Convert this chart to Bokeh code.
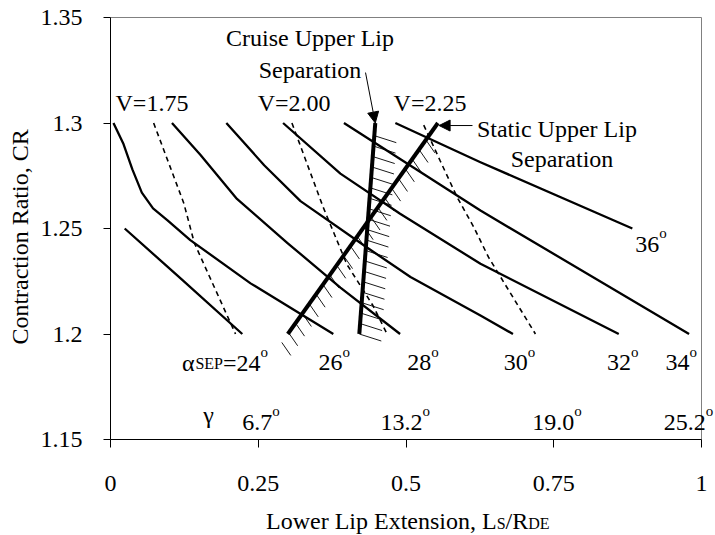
from bokeh.plotting import figure
from bokeh.models import Arrow, NormalHead, FixedTicker, ColumnDataSource
from bokeh.core.properties import value, field
from bokeh.embed import file_html
from bokeh.resources import INLINE
import numpy as np

# ---- axes ----
x_ticks = [0, 0.25, 0.5, 0.75, 1]
x_tick_labels = ["0", "0.25", "0.5", "0.75", "1"]
y_ticks = [1.15, 1.2, 1.25, 1.3, 1.35]
y_tick_labels = ["1.15", "1.2", "1.25", "1.3", "1.35"]

# ---- constant separation-angle curves (solid) ----
a24_x = [0.024, 0.12, 0.223]
a24_y = [1.25, 1.226, 1.2]
a26_x = [0.005, 0.022, 0.037, 0.053, 0.072, 0.096, 0.135, 0.237, 0.377]
a26_y = [1.3, 1.29, 1.278, 1.267, 1.2595, 1.254, 1.2445, 1.224, 1.2]
a28_x = [0.104, 0.152, 0.214, 0.30, 0.389, 0.49]
a28_y = [1.3, 1.285, 1.264, 1.243, 1.222, 1.2]
a30_x = [0.196, 0.26, 0.3215, 0.434, 0.5076, 0.626, 0.681]
a30_y = [1.3, 1.28, 1.263, 1.241, 1.227, 1.2088, 1.2]
a32_x = [0.292, 0.389, 0.49, 0.626, 0.86]
a32_y = [1.3, 1.276, 1.257, 1.2333, 1.2]
a34_x = [0.395, 0.626, 0.979]
a34_y = [1.3, 1.2585, 1.2]
a36_x = [0.482, 0.626, 0.883]
a36_y = [1.3, 1.2814, 1.25]

# ---- constant velocity-ratio lines (dashed) ----
v175_x = [0.073, 0.124, 0.142, 0.2115]
v175_y = [1.3, 1.262, 1.243, 1.2]
v200_x = [0.307, 0.36, 0.40, 0.444, 0.468]
v200_y = [1.3, 1.26, 1.233, 1.2135, 1.2]
v225_x = [0.530, 0.558, 0.5866, 0.6148, 0.6396, 0.6655, 0.719]
v225_y = [1.299, 1.282, 1.2648, 1.2506, 1.2364, 1.2245, 1.2]

# ---- upper lip separation boundaries ----
cruise_x = [0.421, 0.448]
cruise_y = [1.2, 1.3]
static_x = [0.300, 0.554]
static_y = [1.2, 1.3]

FONT = "Liberation Serif"
W, H = 715, 535
# margins (px) around the plotting box; the canvas frame covers them too so
# that annotations outside the box are not clipped
BL, BR, BT, BB = 110, 14, 17, 96
X0, X1, Y0, Y1 = 0.0, 1.0, 1.15, 1.35
px_x = (W - BL - BR) / (X1 - X0)
px_y = (H - BT - BB) / (Y1 - Y0)

p = figure(width=W, height=H,
           x_range=(X0 - BL / px_x, X1 + BR / px_x),
           y_range=(Y0 - BB / px_y, Y1 + BT / px_y),
           output_backend="svg", toolbar_location=None,
           min_border=0, min_border_left=0, min_border_right=0,
           min_border_top=0, min_border_bottom=0)
p.background_fill_color = "white"
p.border_fill_color = "white"
p.outline_line_color = None
p.xgrid.visible = False
p.ygrid.visible = False

p.xaxis.fixed_location = Y0
p.yaxis.fixed_location = X0
p.xaxis.bounds = (X0, X1)
p.yaxis.bounds = (Y0, Y1)

for ax, ticks, labels, tick_out, standoff in (
        (p.xaxis[0], x_ticks, x_tick_labels, 8, 28),
        (p.yaxis[0], y_ticks, y_tick_labels, 7, 21)):
    ax.ticker = FixedTicker(ticks=ticks)
    ax.major_label_overrides = {t: s for t, s in zip(ticks, labels)}
    ax.axis_line_color = "black"
    ax.major_tick_line_color = "black"
    ax.major_tick_out = tick_out
    ax.major_tick_in = 0
    ax.minor_tick_out = 0
    ax.minor_tick_in = 0
    ax.major_label_text_font = FONT
    ax.major_label_text_font_size = "24px"
    ax.major_label_text_color = "black"
    ax.major_label_standoff = standoff

# gray top and right edges of the plotting box
p.segment(x0=[X0, X1], y0=[Y1, Y0], x1=[X1, X1], y1=[Y1, Y1],
          line_color="#808080", line_width=1)

# solid curves
for xs, ys in ((a24_x, a24_y), (a26_x, a26_y), (a28_x, a28_y), (a30_x, a30_y),
               (a32_x, a32_y), (a34_x, a34_y), (a36_x, a36_y)):
    p.line(xs, ys, line_color="black", line_width=2.3, line_join="round")

# dashed curves
for xs, ys in ((v175_x, v175_y), (v200_x, v200_y), (v225_x, v225_y)):
    p.line(xs, ys, line_color="black", line_width=1.6, line_dash="5 4")


def hatch(xs, ys, n, dx_px, dy_px, t0=0.0, t1=1.0):
    t = np.linspace(t0, t1, n)
    bx = xs[0] + (xs[1] - xs[0]) * t
    by = ys[0] + (ys[1] - ys[0]) * t
    p.segment(bx, by, bx + dx_px / px_x, by - dy_px / px_y,
              line_color="black", line_width=0.9)


hatch(cruise_x, cruise_y, 20, 22, 7, 0.0, 0.94)
hatch(static_x, static_y, 22, 9, 13, -0.04, 0.92)

p.line(cruise_x, cruise_y, line_color="black", line_width=4)
p.line(static_x, static_y, line_color="black", line_width=4)

# ---- text runs (with sub/superscripts) ----
TNR = {" ": .25, ",": .25, ".": .25, "/": .278, "=": .564,
       "A": .722, "C": .667, "D": .722, "E": .611, "L": .611, "P": .556,
       "R": .667, "S": .556, "U": .722, "V": .722,
       "a": .444, "c": .444, "e": .444, "i": .278, "n": .5, "o": .5,
       "p": .5, "r": .333, "s": .389, "t": .278, "u": .5, "w": .722,
       "x": .5, "\u03b1": .56, "\u03b3": .45}
LIFT = 8  # baseline correction of the svg text renderer, px


def text_w(s, size):
    return sum(TNR.get(c, .5) for c in s) * size


runs = dict(x=[], y=[], text=[], size=[], dx=[], dy=[])


def rich(x, y, parts, align="left"):
    """Queue text pieces (text, size, raise_px) written left to right from (x, y)."""
    total = sum(text_w(t, s) for t, s, _ in parts)
    off = 0.0 if align == "left" else -total / 2
    for t, s, dy in parts:
        runs["x"].append(x)
        runs["y"].append(y)
        runs["text"].append(t)
        runs["size"].append(f"{s}px")
        runs["dx"].append(off)
        runs["dy"].append(-(dy + LIFT))
        off += text_w(t, s)


def deg(x, y, num):
    rich(x, y, [(num, 24, 0), ("o", 15, 11)])


# velocity labels
rich(0.0085, 1.3059, [("V=1.75", 24, 0)])
rich(0.249, 1.3059, [("V=2.00", 24, 0)])
rich(0.479, 1.3059, [("V=2.25", 24, 0)])

# boundary notes
rich(0.3376, 1.3367, [("Cruise Upper Lip", 24, 0)], align="center")
rich(0.3376, 1.3214, [("Separation", 24, 0)], align="center")
rich(0.620, 1.2936, [("Static Upper Lip", 24, 0)])
rich(0.764, 1.279, [("Separation", 24, 0)], align="center")

# separation-angle labels
rich(0.121, 1.1827, [("\u03b1", 24, 0), ("SEP", 16, -1), ("=24", 24, 0), ("o", 15, 11)])
deg(0.352, 1.1827, "26")
deg(0.502, 1.1827, "28")
deg(0.6655, 1.1827, "30")
deg(0.840, 1.1827, "32")
deg(0.939, 1.1827, "34")
deg(0.888, 1.2388, "36")

# gamma row
rich(0.157, 1.1543, [("\u03b3", 24, 7)])
deg(0.223, 1.1543, "6.7")
deg(0.457, 1.1543, "13.2")
deg(0.7135, 1.1543, "19.0")
deg(0.936, 1.1543, "25.2")

# x axis title with subscripts
rich(0.503, 1.1078, [("Lower Lip Extension, L", 24, 0), ("S", 16, -3),
                     ("/", 24, 0), ("R", 24, 0), ("DE", 16, -3)], align="center")

p.text(x="x", y="y", text="text", source=ColumnDataSource(runs),
       text_font=value(FONT), text_font_size=field("size"),
       x_offset=field("dx"), y_offset=field("dy"),
       text_align="left", text_baseline="alphabetic", text_color="black")

# y axis title, rotated
p.text(x=[X0 - 91 / px_x], y=[1.246], text=["Contraction Ratio, CR"],
       angle=np.pi / 2, text_font=value(FONT), text_font_size=value("24px"),
       text_align="center", text_baseline="middle", text_color="black")

head = dict(size=11, fill_color="black", line_color="black")
p.add_layout(Arrow(end=NormalHead(**head), x_start=0.4315, y_start=1.3239,
                   x_end=cruise_x[1], y_end=cruise_y[1],
                   line_color="black", line_width=1))
p.add_layout(Arrow(end=NormalHead(**head), x_start=0.6125, y_start=1.2988,
                   x_end=static_x[1] + 0.002, y_end=1.2988,
                   line_color="black", line_width=1))

open("out.html", "w").write(file_html(p, INLINE))
